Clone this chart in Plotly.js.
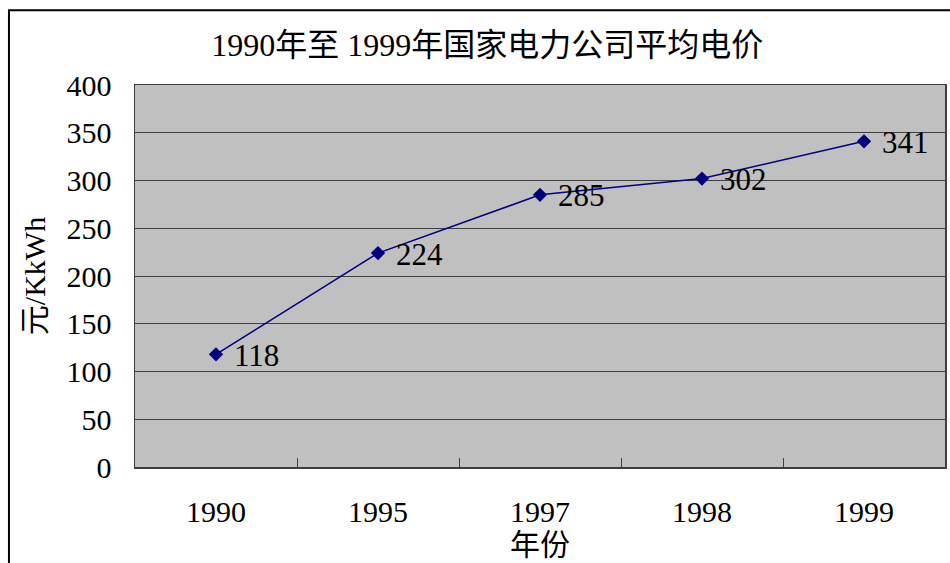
<!DOCTYPE html>
<html>
<head>
<meta charset="utf-8">
<script src="https://cdn.plot.ly/plotly-3.0.1.min.js"></script>
<style>
  html, body { margin: 0; padding: 0; background: #fff; }
  #chart { width: 950px; height: 563px; }
</style>
</head>
<body>
<div id="chart"></div>
<script>
// 国家电力公司平均电价（元/KkWh）
const years = ['1990', '1995', '1997', '1998', '1999'];
const prices = [118, 224, 285, 302, 341];
const yTicks = [0, 50, 100, 150, 200, 250, 300, 350, 400];

const FONT = "Liberation Serif, Noto Sans CJK SC, serif";

const trace = {
  type: 'scatter',
  mode: 'lines+markers',
  x: years,
  y: prices,
  line: { color: '#000080', width: 1.5 },
  marker: { symbol: 'diamond', size: 11, color: '#000080' },
  cliponaxis: false,
  hoverinfo: 'x+y'
};

// value labels just right of each point (category index on x)
const valueLabels = prices.map((v, i) => ({
  x: i, y: v, xref: 'x', yref: 'y',
  text: String(v),
  showarrow: false,
  xanchor: 'left', yanchor: 'middle',
  xshift: 16, yshift: -1,
  font: { family: FONT, size: 31, color: '#000' }
}));

const layout = {
  width: 950,
  height: 563,
  margin: { l: 135, r: 5, t: 85, b: 96 },
  paper_bgcolor: '#ffffff',
  plot_bgcolor: '#c0c0c0',
  showlegend: false,
  font: { family: FONT, color: '#000', size: 30 },
  title: {
    text: '1990年至 1999年国家电力公司平均电价',
    font: { family: FONT, size: 32, color: '#000' },
    x: 0.513, xanchor: 'center', y: 0.92, yanchor: 'middle'
  },
  xaxis: {
    type: 'category',
    range: [-0.5, 4.5],
    tickson: 'boundaries',
    ticks: 'inside',
    ticklen: 9,
    tickcolor: '#404040',
    showgrid: false,
    showline: true,
    linecolor: '#404040',
    linewidth: 1.5,
    mirror: true,
    ticklabelstandoff: 17,
    tickfont: { family: FONT, size: 30 },
    title: { text: '年份', font: { family: FONT, size: 30 }, standoff: 0 }
  },
  yaxis: {
    range: [0, 400],
    tickvals: yTicks,
    ticktext: yTicks.map(String),
    ticks: 'inside',
    ticklen: 9,
    tickcolor: '#404040',
    showgrid: true,
    gridcolor: '#404040',
    gridwidth: 1,
    zeroline: false,
    showline: true,
    linecolor: '#404040',
    linewidth: 1.5,
    mirror: true,
    ticklabelstandoff: 16,
    tickfont: { family: FONT, size: 30 },
    title: { text: '元/KkWh', font: { family: FONT, size: 30 }, standoff: 12 }
  },
  annotations: valueLabels,
  shapes: [{
    type: 'rect', xref: 'paper', yref: 'paper',
    x0: -0.1556, x1: 1.03, y0: -0.3, y1: 1.196,
    line: { color: '#000', width: 2 }, fillcolor: 'rgba(0,0,0,0)'
  }]
};

Plotly.newPlot('chart', [trace], layout, { displayModeBar: false, staticPlot: true });
</script>
</body>
</html>
